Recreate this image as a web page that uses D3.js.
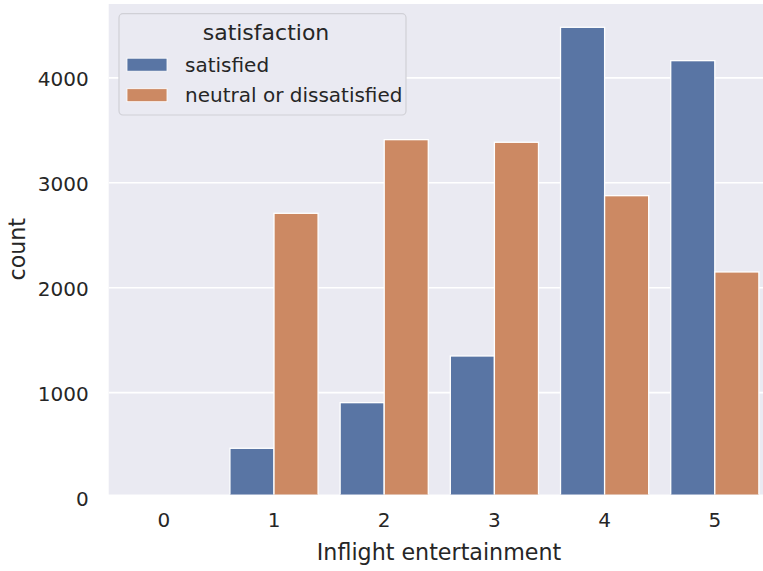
<!DOCTYPE html>
<html><head><meta charset="utf-8">
<script src="https://cdn.jsdelivr.net/npm/d3@7/dist/d3.min.js"></script>
<style>body{margin:0;background:#fff}svg{display:block}text{font-family:"DejaVu Sans",sans-serif;fill:#262626}</style>
</head><body><svg id="c" width="763" height="571"></svg>
<script>
const categories = ["0","1","2","3","4","5"];
const seriesNames = ["satisfied","neutral or dissatisfied"];
const satisfied = [3, 469, 904, 1349, 4482, 4164];
const neutral = [0, 2709, 3411, 3386, 2877, 2150];
const yTicks = [0, 1000, 2000, 3000, 4000];
const colors = ["#5975a4", "#cc8963"];

const svg = d3.select("#c");
const L = 108.7, R = 769.9, T = 4, B0 = 497.5, Bvis = 494.5;
const yMax = 4704;
const x = d3.scaleBand().domain(categories).range([L, R]).padding(0);
const y = d3.scaleLinear().domain([0, yMax]).range([B0, T]);
const sub = d3.scaleBand().domain(seriesNames).range([0, x.bandwidth()*0.8]);

svg.append("defs").append("clipPath").attr("id","pc").append("rect")
  .attr("x", L).attr("y", T).attr("width", R-L).attr("height", Bvis-T);
svg.append("rect").attr("x", L).attr("y", T).attr("width", R-L).attr("height", Bvis-T).attr("fill", "#eaeaf2");

const g = svg.append("g").attr("clip-path","url(#pc)");
g.selectAll("line.grid").data(yTicks).join("line").attr("class","grid")
  .attr("x1", L).attr("x2", R).attr("y1", d=>y(d)).attr("y2", d=>y(d))
  .attr("stroke","#fff").attr("stroke-width",1.6);

const data = [satisfied, neutral];
data.forEach((vals, si) => {
  g.selectAll("rect.s"+si).data(categories).join("rect").attr("class","s"+si)
    .attr("x", d => x(d) + x.bandwidth()*0.1 + sub(seriesNames[si]))
    .attr("width", sub.bandwidth())
    .attr("y", (d,i) => y(vals[i]))
    .attr("height", (d,i) => B0 - y(vals[i]))
    .attr("fill", colors[si]).attr("stroke","#fff").attr("stroke-width",1.3);
});

// y axis
const yAxis = d3.axisLeft(y).tickValues(yTicks).tickFormat(d3.format("d")).tickSize(0).tickPadding(20);
const ya = svg.append("g").attr("transform", `translate(${L},0)`).call(yAxis);
ya.select(".domain").remove();
ya.selectAll("text").attr("font-size", 20).attr("fill","#262626").attr("dy","0.38em").attr("font-family","DejaVu Sans");

// x axis
const xAxis = d3.axisBottom(x).tickSize(0).tickPadding(20);
const xa = svg.append("g").attr("transform", `translate(0,${B0})`).call(xAxis);
xa.select(".domain").remove();
xa.selectAll("text").attr("font-size", 20).attr("fill","#262626").attr("font-family","DejaVu Sans").attr("dy","0.45em");

svg.append("text").attr("x", 439).attr("y", 560).attr("text-anchor","middle").attr("font-size", 22.2).text("Inflight entertainment");
svg.append("text").attr("transform", `translate(25,${(T+Bvis)/2}) rotate(-90)`).attr("text-anchor","middle").attr("font-size", 22.2).text("count");

// legend
const lg = svg.append("g");
lg.append("rect").attr("x",119).attr("y",13.7).attr("width",287).attr("height",101.3).attr("rx",4)
  .attr("fill","#eaeaf2").attr("stroke","#d0d0d6").attr("stroke-width",1.2);
lg.append("text").attr("x",266).attr("y",40).attr("text-anchor","middle").attr("font-size",22).text("satisfaction");
seriesNames.forEach((s,i) => {
  const cy = 64.7 + i*30.5;
  lg.append("rect").attr("x",127).attr("y",cy-6.5).attr("width",40).attr("height",13).attr("fill",colors[i]).attr("stroke","#fff").attr("stroke-width",0.8);
  lg.append("text").attr("x",185).attr("y",cy).attr("dy","0.36em").attr("font-size",20).text(s);
});
</script></body></html>
